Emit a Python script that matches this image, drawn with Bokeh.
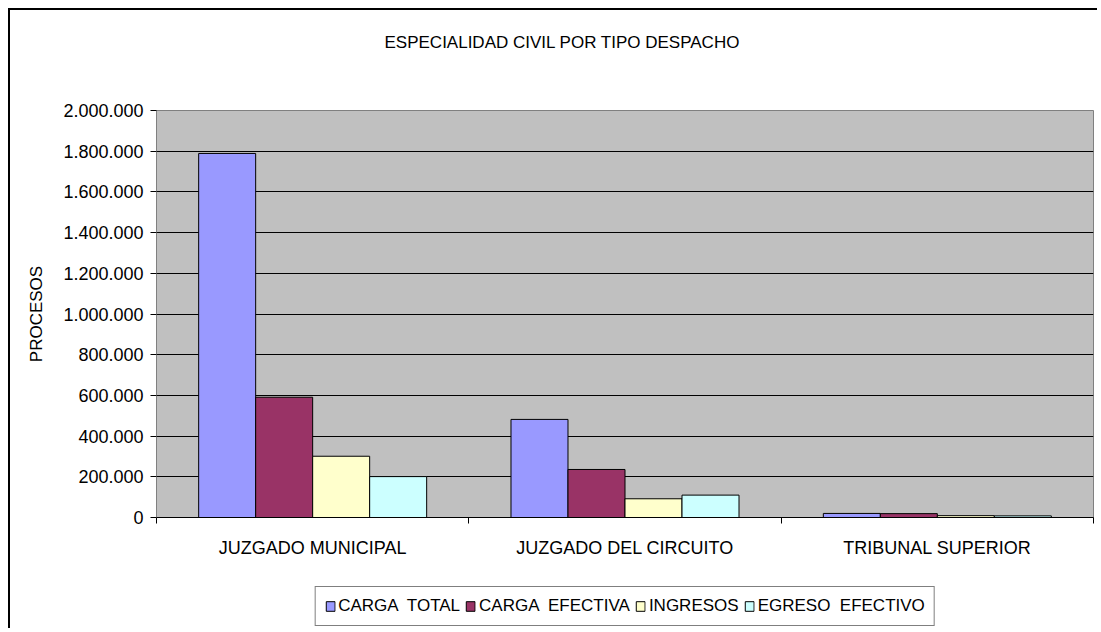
from bokeh.plotting import figure
from bokeh.models import ColumnDataSource, FixedTicker, Legend, LegendItem, Title, Spacer
from bokeh.layouts import row, column
from bokeh.embed import file_html
from bokeh.resources import INLINE

# ---- data ----
categories = ["JUZGADO MUNICIPAL", "JUZGADO DEL CIRCUITO", "TRIBUNAL SUPERIOR"]
series_names = ["CARGA  TOTAL", "CARGA  EFECTIVA", "INGRESOS", "EGRESO  EFECTIVO"]
carga_total = [1789000, 482000, 20000]
carga_efectiva = [591000, 236000, 19000]
ingresos = [301000, 92000, 9000]
egreso_efectivo = [201000, 110000, 8000]
y_ticks = [0, 200000, 400000, 600000, 800000, 1000000, 1200000, 1400000,
           1600000, 1800000, 2000000]
y_tick_labels = ["0", "200.000", "400.000", "600.000", "800.000", "1.000.000",
                 "1.200.000", "1.400.000", "1.600.000", "1.800.000", "2.000.000"]
title_text = "ESPECIALIDAD CIVIL POR TIPO DESPACHO"
y_title = "PROCESOS"

# ---- styles ----
colors = ["#9999FF", "#993366", "#FFFFCC", "#CCFFFF"]
FONT = "Liberation Sans"
bar_w = 0.1825

p = figure(width=1089, height=560, x_range=(0, len(categories)), y_range=(0, 2000000),
           output_backend="svg", toolbar_location=None,
           min_border_left=146, min_border_right=6, min_border_top=100,
           min_border_bottom=53)
p.title.visible = False
p.styles = {"border-left": "2px solid #000000", "border-top": "2px solid #000000"}
p.background_fill_color = "#C0C0C0"
p.border_fill_color = "#FFFFFF"
p.outline_line_color = "#808080"
p.outline_line_width = 1

series = [carga_total, carga_efectiva, ingresos, egreso_efectivo]
for i, vals in enumerate(series):
    xs = [j + 0.5 + (i - 1.5) * bar_w for j in range(len(categories))]
    src = ColumnDataSource(dict(x=xs, top=vals))
    p.vbar(x="x", top="top", width=bar_w, bottom=0, source=src,
           fill_color=colors[i], line_color="#000000", line_width=1)

# x axis
p.xaxis.ticker = FixedTicker(ticks=[j + 0.5 for j in range(len(categories))],
                             minor_ticks=list(range(len(categories) + 1)))
p.xaxis.major_label_overrides = {j + 0.5: c for j, c in enumerate(categories)}
p.xaxis.major_tick_out = 0
p.xaxis.major_tick_in = 0
p.xaxis.minor_tick_out = 6
p.xaxis.minor_tick_in = 0
p.xaxis.minor_tick_line_color = "#000000"
p.xaxis.axis_line_color = "#000000"
p.xaxis.major_label_standoff = 14
p.xaxis.major_label_text_font = FONT
p.xaxis.major_label_text_font_size = "18px"
p.xaxis.major_label_text_color = "#000000"

# y axis
p.yaxis.ticker = FixedTicker(ticks=y_ticks)
p.yaxis.major_label_overrides = {t: l for t, l in zip(y_ticks, y_tick_labels)}
p.yaxis.major_tick_out = 6
p.yaxis.major_tick_in = 0
p.yaxis.minor_tick_line_color = None
p.yaxis.major_tick_line_color = "#000000"
p.yaxis.axis_line_color = "#808080"
p.yaxis.major_label_standoff = 7
p.yaxis.major_label_text_font = FONT
p.yaxis.major_label_text_font_size = "18px"
p.yaxis.major_label_text_color = "#000000"
p.yaxis.axis_label = y_title
p.yaxis.axis_label_text_font = FONT
p.yaxis.axis_label_text_font_size = "17px"
p.yaxis.axis_label_text_font_style = "normal"
p.yaxis.axis_label_text_color = "#000000"
p.yaxis.axis_label_standoff = 14

p.xgrid.visible = False
p.ygrid.ticker = FixedTicker(ticks=y_ticks)
p.ygrid.grid_line_color = "#000000"
p.ygrid.grid_line_width = 1

# title (a blank spacer title keeps the chart title high above the plot area)
p.add_layout(Title(text=" ", standoff=46, text_font_size="1px"), "above")
p.add_layout(Title(text=title_text, align="left", offset=228, standoff=20,
                   text_font=FONT, text_font_size="17px", text_font_style="normal",
                   text_color="#000000"), "above")

# legend strip, drawn in its own figure below the chart
q = figure(width=1089, height=60, x_range=(0, 1), y_range=(0, 1),
           output_backend="svg", toolbar_location=None,
           min_border_left=146, min_border_right=6, min_border_top=0,
           min_border_bottom=0)
q.title.visible = False
q.styles = {"border-left": "2px solid #000000"}
q.axis.visible = False
q.grid.visible = False
q.outline_line_color = None
q.background_fill_color = "#FFFFFF"
q.border_fill_color = "#FFFFFF"
# swatch carriers: one off-range row each so the legend can draw its colour boxes
swatches = [q.vbar(x=[-1.0], top=[-1.0], bottom=-2.0, width=0.1, fill_color=c,
                   line_color="#000000", line_width=1)
            for c in colors]
legend = Legend(items=[LegendItem(label=n, renderers=[r]) for n, r in zip(series_names, swatches)],
                orientation="horizontal", location="top_center")
legend.border_line_color = "#000000"
legend.border_line_width = 1
legend.background_fill_color = "#FFFFFF"
legend.background_fill_alpha = 1
legend.label_text_font = FONT
legend.label_text_font_size = "17px"
legend.label_text_color = "#000000"
legend.glyph_width = 11
legend.glyph_height = 12
legend.label_standoff = 3
legend.label_height = 20
legend.spacing = 5
legend.padding = 9
legend.margin = 18
q.add_layout(legend, "center")

layout = row(Spacer(width=8), column(Spacer(height=8), p, q))
open("out.html", "w").write(file_html(layout, INLINE))
